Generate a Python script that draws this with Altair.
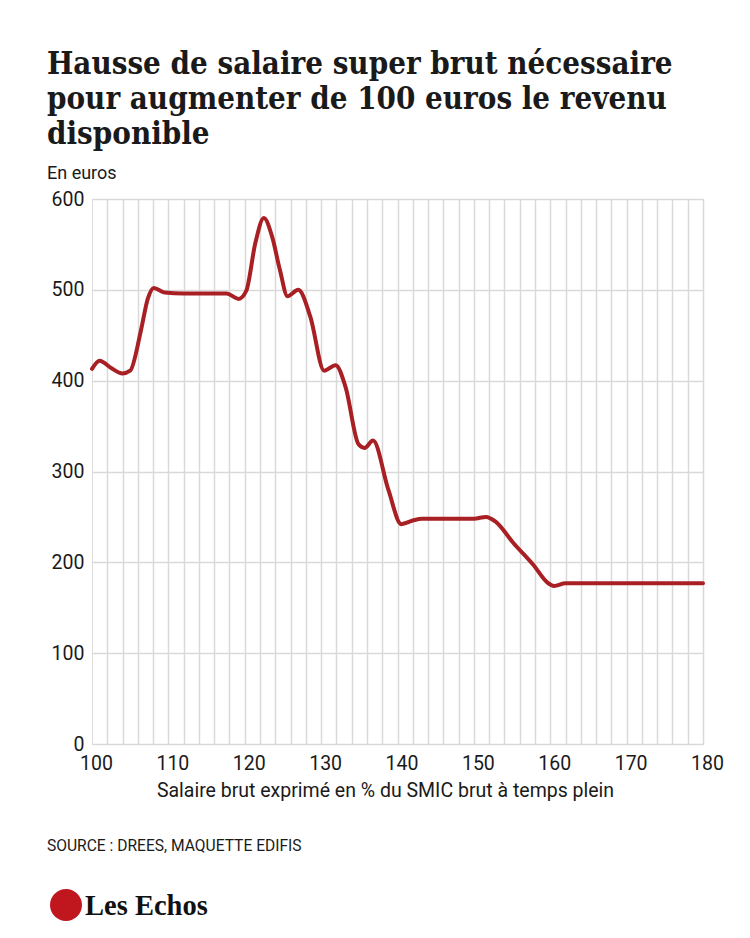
import altair as alt
import pandas as pd

# Data
salaire_pct = [100, 101, 102.5, 104, 105, 106.4, 107.3, 108.1, 109.5, 112, 117.6, 119.2, 120.2,
               121.4, 122.5, 123.6, 124.6, 125.6, 127.0, 128.6, 130.4, 131.9, 133.2, 134.9,
               135.7, 136.8, 138.8, 140.5, 142.0, 143.2, 150.0, 151.6, 152.8, 155.2, 157.8,
               159.6, 160.5, 162.0, 180]
hausse_eur = [413, 422, 414, 408, 411, 455, 490, 502, 497, 496, 496, 490, 499,
              552, 579, 558, 522, 493, 500, 470, 411, 417, 393, 330,
              326, 334, 280, 242, 246, 248, 248, 250, 245, 221, 197,
              178, 174, 177, 177]

x_grid_values = list(range(100, 181, 2))
y_tick_values = [0, 100, 200, 300, 400, 500, 600]

title_lines = ["Hausse de salaire super brut nécessaire",
               "pour augmenter de 100 euros le revenu",
               "disponible"]
subtitle = "En euros"
x_title = "Salaire brut exprimé en % du SMIC brut à temps plein"
source_text = "SOURCE : DREES, MAQUETTE EDIFIS"
logo_text = "Les Echos"

df = pd.DataFrame({"salaire": salaire_pct, "hausse": hausse_eur})

SANS = "Roboto"
SERIF = "DejaVu Serif Condensed, DejaVu Serif"

line = alt.Chart(df).mark_line(
    color="#a81f24", strokeWidth=4, interpolate="monotone", strokeCap="round", strokeJoin="round"
).encode(
    x=alt.X("salaire:Q",
            scale=alt.Scale(domain=[100, 180], nice=False, zero=False),
            axis=alt.Axis(values=x_grid_values, title=x_title,
                          labelExpr="datum.value % 10 === 0 ? datum.label : ''",
                          gridOpacity={"condition": {"test": "datum.value === 100", "value": 0}, "value": 1},
                          domain=False, ticks=False, labelPadding=10, labelOffset=4,
                          labelFlush=False,
                          labelFontSize=19.5, labelFont=SANS, labelColor="#1a1a1a",
                          titleFont=SANS, titleFontSize=19.5, titleFontWeight="normal",
                          titleColor="#1a1a1a", titlePadding=9, titleX=293,
                          gridColor="#d9d9d9", gridWidth=1.5)),
    y=alt.Y("hausse:Q",
            scale=alt.Scale(domain=[0, 600], nice=False),
            axis=alt.Axis(values=y_tick_values, title=None, domain=False, ticks=False,
                          labelPadding=8, labelFontSize=19.5, labelFont=SANS, labelColor="#1a1a1a",
                          gridColor="#d9d9d9", gridWidth=1.5)),
)

one = alt.Data(values=[{"a": 1}])

source = alt.Chart(one).mark_text(
    text=source_text, align="left", baseline="alphabetic", font=SANS, fontSize=15.6, color="#1a1a1a"
).encode(x=alt.value(-45), y=alt.value(652))

logo_circle = alt.Chart(one).mark_circle(color="#c0161d", opacity=1, size=1020).encode(
    x=alt.value(-26), y=alt.value(706))

logo_word = alt.Chart(one).mark_text(
    text=logo_text, align="left", baseline="alphabetic", font="Liberation Serif",
    fontSize=28.5, fontWeight="bold", color="#111111"
).encode(x=alt.value(-7), y=alt.value(716))

chart = alt.layer(line, source, logo_circle, logo_word).properties(
    width=611, height=545,
    autosize=alt.AutoSizeParams(type="none"),
    padding={"left": 92, "top": 199, "right": 47, "bottom": 194},
    title=alt.TitleParams(
        text=title_lines, subtitle=subtitle, anchor="start", frame="group", dx=-45,
        font=SERIF, fontSize=31, fontWeight="bold", color="#1a1a1a", lineHeight=35,
        subtitleFont=SANS, subtitleFontSize=18, subtitleColor="#1a1a1a", subtitlePadding=14,
        offset=5,
    ),
).configure_view(stroke=None).configure(background="white")

chart.save("out.html", embed_options={"renderer": "svg", "actions": False})
